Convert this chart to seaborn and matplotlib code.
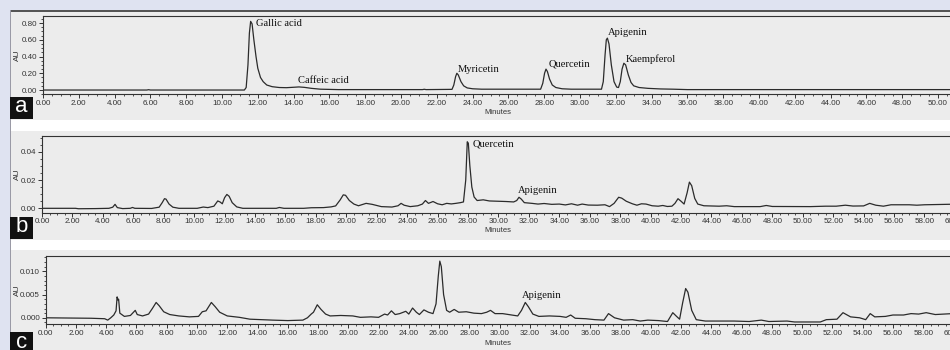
import matplotlib.pyplot as plt
from matplotlib.patches import Rectangle
from matplotlib.ticker import MultipleLocator, FormatStrFormatter
import seaborn as sns

# Cromatograma a - padrões (minutos, AU)
a_min = [0.0, 5.8, 5.9, 6.0, 11.25, 11.35, 11.45, 11.53, 11.6, 11.68, 11.78, 11.9, 12.0, 12.15,
         12.3, 12.5, 12.8, 13.2, 13.6, 14.0, 14.3, 14.6, 15.0, 15.5, 16.5, 21.2, 21.3, 21.4,
         22.85, 22.95, 23.05, 23.12, 23.2, 23.35, 23.5, 23.7, 24.0, 24.5, 27.8, 27.92, 28.02,
         28.1, 28.18, 28.3, 28.45, 28.65, 29.0, 29.5, 31.2, 31.3, 31.4, 31.47, 31.53, 31.62,
         31.75, 31.9, 32.05, 32.15, 32.25, 32.35, 32.45, 32.55, 32.7, 32.85, 33.0, 33.3, 33.8,
         34.5, 35.2, 36.0, 50.7]
a_au = [0.0, 0.0, 0.004, 0.0, 0.0, 0.03, 0.3, 0.68, 0.82, 0.79, 0.6, 0.4, 0.26, 0.15,
        0.1, 0.06, 0.04, 0.03, 0.028, 0.033, 0.037, 0.032, 0.02, 0.01, 0.005, 0.005, 0.009, 0.005,
        0.008, 0.06, 0.16, 0.2, 0.18, 0.1, 0.05, 0.025, 0.015, 0.01, 0.01, 0.08, 0.2,
        0.25, 0.22, 0.13, 0.06, 0.03, 0.015, 0.01, 0.01, 0.1, 0.42, 0.6, 0.62, 0.55,
        0.3, 0.1, 0.035, 0.03, 0.1, 0.25, 0.32, 0.3, 0.18, 0.09, 0.05, 0.03, 0.02,
        0.013, 0.01, 0.005, 0.005]

# Cromatograma b
b_min = [0.0, 2.2, 2.4, 3.5, 4.4, 4.65, 4.8, 4.95, 5.3, 5.8, 5.95, 6.1, 7.2, 7.7, 7.9, 8.05,
         8.15, 8.35, 8.6, 9.0, 10.2, 10.6, 10.9, 11.3, 11.55, 11.7, 11.85, 12.0, 12.15, 12.3,
         12.5, 12.8, 13.2, 15.4, 15.6, 15.9, 17.2, 17.7, 18.5, 19.0, 19.3, 19.6, 19.8, 19.95,
         20.2, 20.5, 20.8, 21.3, 21.7, 22.3, 23.0, 23.4, 23.6, 23.8, 24.2, 24.7, 25.0, 25.2,
         25.4, 25.7, 26.0, 26.3, 26.6, 26.9, 27.2, 27.5, 27.7, 27.85, 27.95, 28.02, 28.12,
         28.25, 28.4, 28.6, 29.0, 29.4, 30.0, 30.5, 31.0, 31.2, 31.35, 31.5, 31.7, 32.2, 32.6,
         33.0, 33.5, 34.0, 34.4, 34.8, 35.2, 35.5, 35.9, 36.5, 37.0, 37.3, 37.6, 37.9, 38.1,
         38.4, 38.8, 39.1, 39.4, 39.7, 40.1, 40.5, 40.8, 41.1, 41.4, 41.6, 41.8, 42.0, 42.2,
         42.4, 42.55, 42.7, 42.9, 43.1, 43.5, 44.5, 45.0, 45.5, 47.2, 47.6, 48.0, 50.5, 51.5,
         52.2, 52.8, 53.3, 54.0, 54.4, 54.8, 55.3, 55.8, 57.0, 57.5, 58.0, 60.4]
b_au = [0.0, 0.0, -0.0003, -0.0002, 0.0, 0.0008, 0.0028, 0.0005, -0.0002, 0.0, 0.0006, 0.0,
        -0.0001, 0.0008, 0.004, 0.0068, 0.0065, 0.003, 0.0008, 0.0, 0.0, 0.0009, 0.0005, 0.0015,
        0.0052, 0.0045, 0.0032, 0.0075, 0.0098, 0.0085, 0.004, 0.001, 0.0, 0.0, 0.0006, 0.0,
        0.0, 0.0004, 0.0005, 0.001, 0.0017, 0.006, 0.0095, 0.0092, 0.0055, 0.003, 0.0018,
        0.0035, 0.0028, 0.0012, 0.0009, 0.0018, 0.0035, 0.0022, 0.0012, 0.0018, 0.003, 0.0055,
        0.0035, 0.0048, 0.0032, 0.0025, 0.0035, 0.0031, 0.0035, 0.004, 0.0045, 0.02, 0.047,
        0.046, 0.03, 0.015, 0.008, 0.0055, 0.006, 0.0052, 0.005, 0.0048, 0.0045, 0.0055, 0.0078,
        0.0065, 0.004, 0.0035, 0.003, 0.0034, 0.0028, 0.003, 0.0024, 0.0032, 0.0022, 0.003,
        0.0023, 0.0022, 0.0025, 0.0012, 0.0035, 0.0078, 0.0072, 0.005, 0.0032, 0.0022, 0.0032,
        0.003, 0.0018, 0.0015, 0.002, 0.0013, 0.0015, 0.0035, 0.0068, 0.005, 0.003, 0.011,
        0.0185, 0.016, 0.007, 0.003, 0.0018, 0.0015, 0.0018, 0.0012, 0.0012, 0.002, 0.0013,
        0.0012, 0.0015, 0.0015, 0.0022, 0.0016, 0.0017, 0.0035, 0.0022, 0.0015, 0.0025, 0.0025,
        0.0022, 0.0025, 0.003]

# Cromatograma c
c_min = [0.0, 3.0, 3.9, 4.1, 4.3, 4.5, 4.65, 4.72, 4.78, 4.82, 4.9, 5.2, 5.6, 5.8, 5.92, 6.05,
         6.4, 6.8, 7.05, 7.3, 7.5, 7.8, 8.2, 8.8, 9.5, 10.1, 10.35, 10.6, 10.95, 11.2, 11.5,
         12.0, 12.8, 13.5, 15.0, 16.0, 17.0, 17.3, 17.55, 17.7, 17.95, 18.2, 18.5, 18.8, 19.5,
         20.3, 20.8, 21.5, 22.0, 22.4, 22.6, 22.85, 23.1, 23.4, 23.8, 24.0, 24.25, 24.5, 24.7,
         25.0, 25.3, 25.6, 25.8, 25.95, 26.05, 26.15, 26.3, 26.5, 26.7, 27.0, 27.3, 27.8, 28.3,
         28.8, 29.15, 29.4, 29.7, 30.2, 30.8, 31.2, 31.45, 31.7, 31.9, 32.2, 32.6, 33.3, 34.0,
         34.4, 34.7, 35.0, 35.7, 36.3, 36.9, 37.2, 37.6, 38.2, 38.8, 39.3, 39.8, 40.5, 41.1,
         41.45, 41.7, 41.9, 42.1, 42.3, 42.45, 42.7, 43.0, 43.6, 44.5, 45.5, 46.5, 47.3, 47.8,
         49.0, 49.5, 51.2, 51.6, 52.3, 52.7, 53.2, 53.8, 54.2, 54.5, 54.8, 55.5, 56.0, 56.7,
         57.2, 57.7, 58.2, 58.8, 60.5]
c_au = [0.0, -0.0001, -0.0002, -0.0005, 0.0, 0.0006, 0.0015, 0.0045, 0.0038, 0.004, 0.001,
        0.0003, 0.0005, 0.0012, 0.0016, 0.0007, 0.0004, 0.0008, 0.002, 0.0033, 0.0026, 0.0013,
        0.0007, 0.0004, 0.0002, 0.0003, 0.0013, 0.0015, 0.0033, 0.0024, 0.0012, 0.0004, 0.0001,
        -0.0003, -0.0005, -0.0006, -0.0005, 0.0, 0.0008, 0.0012, 0.0028, 0.0018, 0.0008, 0.0004,
        0.0005, 0.0004, 0.0001, 0.0002, 0.0001, 0.0008, 0.0006, 0.0015, 0.0007, 0.0009, 0.0014,
        0.0008, 0.0021, 0.0012, 0.0007, 0.0017, 0.0012, 0.0009, 0.003, 0.009, 0.0122, 0.011,
        0.005, 0.0016, 0.0012, 0.0018, 0.0012, 0.0013, 0.001, 0.0009, 0.0012, 0.0016, 0.0009,
        0.0009, 0.0006, 0.0004, 0.0016, 0.0033, 0.0024, 0.0008, 0.0003, 0.0004, 0.0003, 0.0001,
        0.0006, -0.0001, -0.0002, -0.0004, -0.0005, 0.0009, 0.0, -0.0005, -0.0004, -0.0007,
        -0.0005, -0.0006, -0.0008, 0.0011, 0.0003, -0.0003, 0.0032, 0.0063, 0.0055, 0.0016,
        -0.0004, -0.0007, -0.0007, -0.0007, -0.0008, -0.0005, -0.0008, -0.0007, -0.0009,
        -0.0009, -0.0004, -0.0003, 0.0011, 0.0002, 0.0, -0.0004, 0.0009, 0.0002, 0.0003, 0.0006,
        0.0006, 0.0009, 0.0008, 0.0011, 0.0007, 0.001]

# rótulos dos picos
a_picos = ['Gallic acid', 'Caffeic acid', 'Myricetin', 'Quercetin', 'Apigenin', 'Kaempferol']
a_picos_x = [11.9, 14.23, 23.18, 28.27, 31.56, 32.55]
a_picos_y = [0.80, 0.11, 0.25, 0.307, 0.684, 0.37]
b_picos = ['Quercetin', 'Apigenin']
b_picos_x = [28.3, 31.27]
b_picos_y = [0.0452, 0.0124]
c_picos = ['Apigenin']
c_picos_x = [31.5]
c_picos_y = [0.0047]

sns.set_style('ticks')
plt.rcParams['font.family'] = ['Liberation Sans', 'DejaVu Sans']

W, H = 950, 350
fig = plt.figure(figsize=(9.5, 3.5), dpi=100)
fig.patch.set_facecolor('#dfe3f1')


def caixa(x0, y0, x1, y1):
    return [x0 / W, 1 - y1 / H, (x1 - x0) / W, (y1 - y0) / H]


def ret(x0, y0, x1, y1, cor, z=-5):
    l, b, w, h = caixa(x0, y0, x1, y1)
    fig.add_artist(Rectangle((l, b), w, h, transform=fig.transFigure,
                             facecolor=cor, edgecolor='none', zorder=z))


# fundos dos painéis
ret(10, 11, 950, 120, '#ececec')
ret(10, 120, 950, 131, '#ffffff')
ret(10, 131, 950, 240, '#ececec')
ret(10, 240, 950, 250, '#ffffff')
ret(10, 250, 950, 360, '#ececec')
ret(10, 10, 950, 11.5, '#555555')
ret(9.5, 10, 10.5, 350, '#9a9aa6')

cor_linha = '#2b2b2b'
# eixos b e c passam um pouco da borda direita da figura (o "60" fica cortado)
paineis = [
    (a_min, a_au, caixa(43, 16, 950, 94.3), 50.67, (-0.051, 0.884), 0.2, 0.05, '%.2f',
     a_picos, a_picos_x, a_picos_y, 'a', 108, 113),
    (b_min, b_au, caixa(42, 135.7, 961, 212.7), 60.4, (-0.0031, 0.0513), 0.02, 0.005, '%.2f',
     b_picos, b_picos_x, b_picos_y, 'b', 228, 231),
    (c_min, c_au, caixa(45.7, 256, 961, 324.3), 60.5, (-0.0014, 0.0133), 0.005, 0.001, '%.3f',
     c_picos, c_picos_x, c_picos_y, 'c', 343, 343.5),
]

for (xs, ys, pos, xmax, ylim, ymaj, ymen, fmt, nomes, px, py, letra, yletra, ymin_txt) in paineis:
    ax = fig.add_axes(pos)
    ax.set_facecolor('#ececec')
    sns.lineplot(x=xs, y=ys, ax=ax, color=cor_linha, linewidth=0.9, estimator=None, sort=False)
    ax.set_xlim(0, xmax)
    ax.set_ylim(*ylim)
    ax.xaxis.set_major_locator(MultipleLocator(2))
    ax.xaxis.set_minor_locator(MultipleLocator(0.5))
    ax.xaxis.set_major_formatter(FormatStrFormatter('%.2f'))
    ax.yaxis.set_major_locator(MultipleLocator(ymaj))
    ax.yaxis.set_minor_locator(MultipleLocator(ymen))
    ax.yaxis.set_major_formatter(FormatStrFormatter(fmt))
    ax.tick_params(which='major', length=2.6, width=0.7, pad=1.5, labelsize=5.8,
                   colors='#333333')
    ax.tick_params(which='minor', length=1.5, width=0.6, colors='#333333')
    for lado in ['left', 'bottom', 'top']:
        ax.spines[lado].set_color('#333333')
        ax.spines[lado].set_linewidth(0.8)
    ax.spines['right'].set_visible(False)
    ax.set_xlabel('')
    ax.set_ylabel('AU', fontsize=6, color='#333333')
    larg_px = pos[2] * W
    ax.yaxis.set_label_coords((21 - pos[0] * W) / larg_px, 0.5)
    for nome, x, y in zip(nomes, px, py):
        ax.text(x, y, nome, fontsize=7.6, family='Liberation Serif', color='#111111',
                ha='left', va='center')
    fig.text(498 / W, 1 - ymin_txt / H, 'Minutes', fontsize=5.5, color='#333333',
             ha='center', va='center')
    ret(10, yletra - 11, 33, yletra + 11, '#111111', z=5)
    fig.text(21.5 / W, 1 - (yletra - 1) / H, letra, fontsize=16, color='white',
             ha='center', va='center', zorder=6)

fig.savefig('out.png', dpi=100, facecolor=fig.get_facecolor())
